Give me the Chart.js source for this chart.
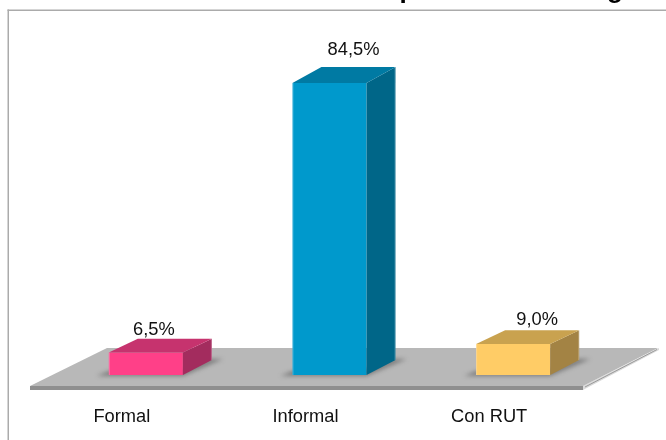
<!DOCTYPE html>
<html>
<head>
<meta charset="utf-8">
<style>
  html, body { margin: 0; background: #fff; overflow: hidden; }
  canvas { display: block; }
</style>
<script src="https://cdn.jsdelivr.net/npm/chart.js@4"></script>
</head>
<body>
<canvas id="barChart" width="666" height="440"></canvas>
<script>
const categories = ["Formal", "Informal", "Con RUT"];
const shares = [6.5, 84.5, 9.0];

const frontColors = ["#FF4088", "#0099CC", "#FFCC66"];
const topColors = ["#C6336E", "#007AA3", "#C9A24F"];
const sideColors = ["#A32C5E", "#006688", "#A38344"];

const FONT = '"Liberation Sans", Arial, sans-serif';
const DEPTH_X = 29;
const DEPTH_Y = 15;

function fillPoly(ctx, color, pts) {
  ctx.fillStyle = color;
  ctx.beginPath();
  pts.forEach((p, i) => i ? ctx.lineTo(p[0], p[1]) : ctx.moveTo(p[0], p[1]));
  ctx.closePath();
  ctx.fill();
}

// Frame, clipped title letters, grey floor and bar shadows go under the bars
const floorPlugin = {
  id: "floor",
  beforeDatasetsDraw(chart) {
    const ctx = chart.ctx;
    const base = chart.scales.y.getPixelForValue(0);
    ctx.save();

    ctx.fillStyle = "#ABABAB";
    ctx.fillRect(7.5, 9.5, 1.5, 430.5);
    ctx.fillRect(7.5, 9.5, 658.5, 1.5);

    ctx.fillStyle = "#000";
    ctx.font = "bold 26px " + FONT;
    ctx.textAlign = "center";
    ctx.textBaseline = "alphabetic";
    ctx.fillText("p", 407.5, -2);
    ctx.fillText("g", 615, -2);

    // floor sits a little in front of and behind the bar bases
    const front = base + 11;
    const back = base - 27;
    fillPoly(ctx, "#8F8F8F", [[30, front], [583, front], [583, front + 4], [30, front + 4]]);
    fillPoly(ctx, "#DADADA", [[583, front], [659, back], [659, back + 2], [583, front + 4]]);
    fillPoly(ctx, "#B8B8B8", [[30, front], [107, back], [658, back], [583, front]]);
    ctx.strokeStyle = "#999";
    ctx.lineWidth = 1;
    ctx.beginPath();
    ctx.moveTo(585, front + 1);
    ctx.lineTo(657, back + 1.5);
    ctx.stroke();

    ctx.filter = "blur(2px)";
    chart.getDatasetMeta(0).data.forEach(bar => {
      const x0 = bar.x - bar.width / 2;
      const x1 = bar.x + bar.width / 2;
      fillPoly(ctx, "rgba(85,85,85,0.6)", [
        [x0 - 12, base + 1], [x1, base + 1],
        [x1 + 40, base - DEPTH_Y - 1], [x1 + 26, base - DEPTH_Y - 1],
        [x1, base - 6], [x0, base - 4]
      ]);
    });
    ctx.restore();
  }
};

// Top and side faces plus value labels, all taken from the bar elements
const facesPlugin = {
  id: "faces",
  afterDatasetsDraw(chart) {
    const ctx = chart.ctx;
    const labelDx = [8, 24, 24];
    const labelDy = [24.5, 35, 25];
    ctx.save();
    chart.getDatasetMeta(0).data.forEach((bar, i) => {
      const x0 = bar.x - bar.width / 2;
      const x1 = bar.x + bar.width / 2;
      const top = bar.y;
      const base = bar.base;
      // top face gets a bit deeper on the tall bar (perspective of the original)
      const topDepth = 13.5 + 2.5 * (base - top) / 292;
      fillPoly(ctx, sideColors[i], [
        [x1, top], [x1 + DEPTH_X, top - topDepth],
        [x1 + DEPTH_X, base - DEPTH_Y], [x1, base]
      ]);
      fillPoly(ctx, topColors[i], [
        [x0, top], [x0 + DEPTH_X, top - topDepth],
        [x1 + DEPTH_X, top - topDepth], [x1, top]
      ]);

      // light rims on the outer edges
      ctx.fillStyle = "rgba(255,255,255,0.25)";
      ctx.fillRect(x0, top, 1, base - top);
      ctx.fillRect(x1 + DEPTH_X - 1, top - topDepth, 1, base - top + topDepth - DEPTH_Y);

      ctx.fillStyle = "#111";
      ctx.font = "18.3px " + FONT;
      ctx.textAlign = "center";
      ctx.textBaseline = "middle";
      ctx.fillText(shares[i].toFixed(1).replace(".", ",") + "%", bar.x + labelDx[i], top - labelDy[i] + 1.5);
    });
    ctx.restore();
  }
};

new Chart(document.getElementById("barChart"), {
  type: "bar",
  data: {
    labels: categories,
    datasets: [{
      data: shares,
      backgroundColor: frontColors,
      barPercentage: 74 / 183.5,
      categoryPercentage: 1
    }]
  },
  options: {
    responsive: false,
    animation: false,
    layout: { padding: { left: 54, right: 61, top: 29.4, bottom: 0 } },
    plugins: {
      legend: { display: false },
      tooltip: { enabled: false }
    },
    scales: {
      x: {
        afterFit: scale => { scale.height = 65; },
        grid: { display: false, drawTicks: false },
        border: { display: false },
        ticks: {
          color: "#111",
          font: { family: FONT, size: 18.3 },
          padding: 31,
          labelOffset: -24,
          maxRotation: 0,
          autoSkip: false
        }
      },
      y: { display: false, min: 0, max: 100 }
    }
  },
  plugins: [floorPlugin, facesPlugin]
});
</script>
</body>
</html>
